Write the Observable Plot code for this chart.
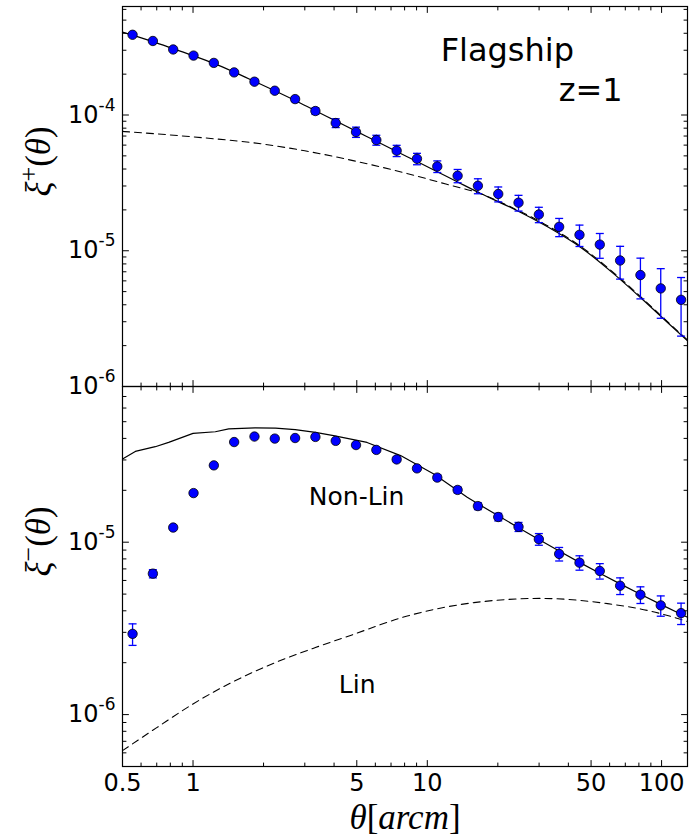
<!DOCTYPE html>
<html><head><meta charset="utf-8">
<script src="https://cdn.jsdelivr.net/npm/d3@7"></script>
<script src="https://cdn.jsdelivr.net/npm/@observablehq/plot@0.6"></script>
<style>
body{margin:0;background:#fff;}
#chart{position:relative;width:691px;height:836px;overflow:hidden;background:#fff;}
#chart svg{position:absolute;left:0;}
</style></head><body><div id="chart"></div>
<script>
// angular bins (arcmin)
const theta = [0.552, 0.674, 0.823, 1.005, 1.227, 1.498, 1.829, 2.233, 2.727, 3.329, 4.065, 4.963, 6.060, 7.399, 9.034, 11.03, 13.47, 16.44, 20.08, 24.51, 29.93, 36.54, 44.62, 54.48, 66.52, 81.22, 99.17, 121.1];
// xi+ measurements
const xiPlus = [3.90e-4, 3.51e-4, 3.04e-4, 2.74e-4, 2.42e-4, 2.06e-4, 1.76e-4, 1.51e-4, 1.31e-4, 1.07e-4, 8.73e-5, 7.49e-5, 6.54e-5, 5.46e-5, 4.76e-5, 4.18e-5, 3.57e-5, 3.01e-5, 2.62e-5, 2.26e-5, 1.85e-5, 1.50e-5, 1.31e-5, 1.11e-5, 8.48e-6, 6.62e-6, 5.28e-6, 4.35e-6];
const xiPlusErr = [4e-6, 4e-6, 4e-6, 4e-6, 4e-6, 4e-6, 5e-6, 5e-6, 5.5e-6, 6e-6, 6.5e-6, 6.5e-6, 5.5e-6, 5.2e-6, 4.6e-6, 4.1e-6, 4.0e-6, 3.8e-6, 3.3e-6, 3.0e-6, 2.4e-6, 2.3e-6, 2.35e-6, 2.3e-6, 2.3e-6, 2.2e-6, 2.1e-6, 2.0e-6];
// xi- measurements
const xiMinus = [2.94e-6, 6.57e-6, 1.216e-5, 1.927e-5, 2.79e-5, 3.81e-5, 4.10e-5, 3.99e-5, 4.02e-5, 4.08e-5, 3.87e-5, 3.66e-5, 3.43e-5, 3.02e-5, 2.68e-5, 2.37e-5, 2.01e-5, 1.62e-5, 1.40e-5, 1.228e-5, 1.041e-5, 8.55e-6, 7.61e-6, 6.81e-6, 5.59e-6, 4.96e-6, 4.30e-6, 3.88e-6];
const xiMinusErr = [4.2e-7, 3.6e-7, 3e-7, 3e-7, 3e-7, 3e-7, 3e-7, 3e-7, 3e-7, 3e-7, 3e-7, 1.0e-6, 1.0e-6, 0.9e-6, 0.8e-6, 0.8e-6, 0.8e-6, 0.75e-6, 0.71e-6, 0.74e-6, 0.81e-6, 0.77e-6, 0.73e-6, 0.70e-6, 0.62e-6, 0.55e-6, 0.58e-6, 0.55e-6];
// model curves: xi+ non-linear (solid) and linear (dashed)
const nlPlusTheta = [0.5, 0.552, 0.674, 0.823, 1.005, 1.227, 1.498, 1.829, 2.233, 2.727, 3.329, 4.065, 4.963, 6.060, 7.399, 9.034, 11.03, 13.47, 16.9, 23.4, 32.6, 45.2, 62.7, 87.1, 106, 129];
const nlPlus = [4.08e-4, 3.88e-4, 3.47e-4, 3.08e-4, 2.73e-4, 2.40e-4, 2.07e-4, 1.77e-4, 1.51e-4, 1.28e-4, 1.075e-4, 9.05e-5, 7.61e-5, 6.41e-5, 5.39e-5, 4.54e-5, 3.82e-5, 3.21e-5, 2.64e-5, 2.03e-5, 1.50e-5, 1.057e-5, 6.73e-6, 4.05e-6, 2.96e-6, 2.17e-6];
const linPlusTheta = [0.5, 1, 2, 3, 5, 8, 12, 17, 23.4, 32.6, 45.2, 62.7, 87.1, 106, 129];
const linPlus = [7.57e-5, 6.9e-5, 6.1e-5, 5.45e-5, 4.55e-5, 3.75e-5, 3.1e-5, 2.62e-5, 2.05e-5, 1.53e-5, 1.075e-5, 6.85e-6, 4.12e-6, 3.0e-6, 2.2e-6];
// model curves: xi- non-linear (solid) and linear (dashed)
const nlMinusTheta = [0.5, 0.567, 0.69, 0.787, 1.0, 1.245, 1.42, 1.84, 2.25, 2.73, 3.33, 3.98, 5.53, 7.69, 10.7, 14.8, 16.44, 20.08, 24.51, 29.93, 36.54, 44.62, 54.48, 66.52, 81.22, 99.17, 121.1, 129];
const nlMinus = [3.04e-5, 3.36e-5, 3.58e-5, 3.79e-5, 4.28e-5, 4.37e-5, 4.54e-5, 4.60e-5, 4.59e-5, 4.50e-5, 4.34e-5, 4.15e-5, 3.79e-5, 3.18e-5, 2.48e-5, 1.82e-5, 1.67e-5, 1.425e-5, 1.213e-5, 1.036e-5, 8.88e-6, 7.64e-6, 6.6e-6, 5.73e-6, 4.99e-6, 4.36e-6, 3.82e-6, 3.67e-6];
const linMinusTheta = [0.5, 0.7, 1, 1.5, 2, 3.33, 4.7, 8.21, 15.8, 30.5, 58.8, 90, 129];
const linMinus = [6.18e-7, 8.4e-7, 1.153e-6, 1.563e-6, 1.875e-6, 2.45e-6, 2.88e-6, 3.73e-6, 4.46e-6, 4.72e-6, 4.40e-6, 3.98e-6, 3.47e-6];
// ticks
const xMajorTicks = [0.5, 1, 5, 10, 50, 100];
const xTickLabels = ["0.5", "1", "5", "10", "50", "100"];
const xMinorTicks = [0.6, 0.7, 0.8, 0.9, 2, 3, 4, 6, 7, 8, 9, 20, 30, 40, 60, 70, 80, 90];
const yPlusMajorTicks = [1e-6, 1e-5, 1e-4];
const yPlusMinorTicks = [2e-6, 3e-6, 4e-6, 5e-6, 6e-6, 7e-6, 8e-6, 9e-6, 2e-5, 3e-5, 4e-5, 5e-5, 6e-5, 7e-5, 8e-5, 9e-5, 2e-4, 3e-4, 4e-4, 5e-4, 6e-4];
const yMinusMajorTicks = [1e-6, 1e-5];
const yMinusMinorTicks = [6e-7, 7e-7, 8e-7, 9e-7, 2e-6, 3e-6, 4e-6, 5e-6, 6e-6, 7e-6, 8e-6, 9e-6, 2e-5, 3e-5, 4e-5, 5e-5, 6e-5, 7e-5];

const STYLE = "font-family: 'DejaVu Sans', sans-serif; font-size: 24px; background: transparent; overflow: visible;";
const X = {type: "log", domain: [0.5, 129]};
const tickShape = {draw(ctx, l) { ctx.moveTo(0, 0); ctx.lineTo(0, -l); }};
const capSymbol = {draw(ctx) { ctx.moveTo(-4, 0); ctx.lineTo(4, 0); }};

function ticks(xs, ys, len) {
  const o = {length: len, anchor: "start", shape: tickShape, stroke: "black", strokeWidth: 1};
  return [
    Plot.vector(xs, {x: d => d, frameAnchor: "bottom", rotate: 0, ...o}),
    Plot.vector(xs, {x: d => d, frameAnchor: "top", rotate: 180, ...o}),
    Plot.vector(ys, {y: d => d, frameAnchor: "left", rotate: 90, ...o}),
    Plot.vector(ys, {y: d => d, frameAnchor: "right", rotate: -90, ...o})
  ];
}
function series(ts, vs) { return ts.map((t, i) => ({t, v: vs[i]})); }
function points(vals, errs) { return theta.map((t, i) => ({t, v: vals[i], e: errs[i]})); }
function dataMarks(pts) {
  return [
    Plot.ruleX(pts, {x: "t", y1: d => d.v - d.e, y2: d => d.v + d.e, stroke: "#0000ff", strokeWidth: 1.3}),
    Plot.dot(pts, {x: "t", y: d => d.v + d.e, symbol: capSymbol, stroke: "#0000ff", fill: "none", strokeWidth: 1.3}),
    Plot.dot(pts, {x: "t", y: d => d.v - d.e, symbol: capSymbol, stroke: "#0000ff", fill: "none", strokeWidth: 1.3}),
    Plot.dot(pts, {x: "t", y: "v", r: 4.7, fill: "#0000ff", stroke: "black", strokeWidth: 0.8})
  ];
}
const powFmt = d => "10^" + Math.round(Math.log10(d));

const ptsPlus = points(xiPlus, xiPlusErr);
const ptsMinus = points(xiMinus, xiMinusErr);

const topPlot = Plot.plot({
  width: 691, height: 400, marginTop: 6, marginBottom: 14, marginLeft: 122, marginRight: 4,
  style: STYLE,
  x: {...X, axis: null},
  y: {type: "log", domain: [1e-6, 6.3e-4]},
  marks: [
    Plot.line(series(linPlusTheta, linPlus), {x: "t", y: "v", stroke: "black", strokeWidth: 1.1, strokeDasharray: "7,5", curve: "monotone-x"}),
    Plot.line(series(nlPlusTheta, nlPlus), {x: "t", y: "v", stroke: "black", strokeWidth: 1.2, curve: "monotone-x"}),
    ...dataMarks(ptsPlus),
    ...ticks(xMajorTicks, yPlusMajorTicks, 6),
    ...ticks(xMinorTicks, yPlusMinorTicks, 3.5),
    Plot.frame({stroke: "black", strokeWidth: 1.2}),
    Plot.axisY({ticks: yPlusMajorTicks, tickSize: 0, tickPadding: 7, tickFormat: powFmt, label: null, fontSize: 24}),
    Plot.text([{s: "Flagship", t: 11.4, v: 2.51e-4}], {x: "t", y: "v", text: "s", textAnchor: "start", lineAnchor: "bottom", fontSize: 32}),
    Plot.text([{s: "z=1", t: 36.4, v: 1.274e-4}], {x: "t", y: "v", text: "s", textAnchor: "start", lineAnchor: "bottom", fontSize: 32}),
    Plot.text(["YLABEL"], {frameAnchor: "left", dx: -84, rotate: -90, fontSize: 35})
  ]
});

const botPlot = Plot.plot({
  width: 691, height: 450, marginTop: 0, marginBottom: 70, marginLeft: 122, marginRight: 4,
  style: STYLE,
  x: {...X, axis: null},
  y: {type: "log", domain: [5e-7, 8e-5]},
  marks: [
    Plot.line(series(linMinusTheta, linMinus), {x: "t", y: "v", stroke: "black", strokeWidth: 1.1, strokeDasharray: "7,5", curve: "monotone-x"}),
    Plot.line(series(nlMinusTheta, nlMinus), {x: "t", y: "v", stroke: "black", strokeWidth: 1.2}),
    ...dataMarks(ptsMinus),
    ...ticks(xMajorTicks, yMinusMajorTicks, 6),
    ...ticks(xMinorTicks, yMinusMinorTicks, 3.5),
    Plot.frame({stroke: "black", strokeWidth: 1.2}),
    Plot.axisY({ticks: yMinusMajorTicks, tickSize: 0, tickPadding: 7, tickFormat: powFmt, label: null, fontSize: 24}),
    Plot.text(xMajorTicks, {x: d => d, text: (d, i) => xTickLabels[i], frameAnchor: "bottom", lineAnchor: "top", dy: 7, fontSize: 24}),
    Plot.text([{s: "Non-Lin", t: 3.12, v: 1.641e-5}], {x: "t", y: "v", text: "s", textAnchor: "start", lineAnchor: "bottom", fontSize: 25}),
    Plot.text([{s: "Lin", t: 4.19, v: 1.335e-6}], {x: "t", y: "v", text: "s", textAnchor: "start", lineAnchor: "bottom", fontSize: 25}),
    Plot.text(["YLABEL"], {frameAnchor: "left", dx: -84, rotate: -90, fontSize: 35}),
    Plot.text(["XLABEL"], {frameAnchor: "bottom", dy: 62, lineAnchor: "bottom", fontSize: 35})
  ]
});

const NS = "http://www.w3.org/2000/svg";
function rich(el, parts, family) {
  el.textContent = "";
  if (family) el.setAttribute("font-family", family);
  for (const p of parts) {
    const ts = document.createElementNS(NS, "tspan");
    ts.textContent = p.t;
    ts.setAttribute("font-style", p.it ? "italic" : "normal");
    if (p.size) ts.setAttribute("font-size", p.size);
    if (p.dy) ts.setAttribute("dy", p.dy);
    el.appendChild(ts);
  }
}
function fixPow(svg) {
  svg.querySelectorAll('g[aria-label="y-axis tick label"] text').forEach(el => {
    const [b, e] = el.textContent.split("^");
    rich(el, [{t: b}, {t: e, size: 17, dy: -12}]);
  });
}
function textsWith(svg, s) { return [...svg.querySelectorAll("text")].filter(el => el.textContent === s); }
fixPow(topPlot); fixPow(botPlot);
const serif = "'Liberation Serif', 'DejaVu Serif', serif";
textsWith(topPlot, "YLABEL").forEach(el =>
  rich(el, [{t: "ξ", it: true}, {t: "+", size: 26, dy: -13}, {t: "(", dy: 13}, {t: "θ", it: true}, {t: ")"}], serif));
textsWith(botPlot, "YLABEL").forEach(el =>
  rich(el, [{t: "ξ", it: true}, {t: "−", size: 26, dy: -13}, {t: "(", dy: 13}, {t: "θ", it: true}, {t: ")"}], serif));
textsWith(botPlot, "XLABEL").forEach(el =>
  rich(el, [{t: "θ", it: true}, {t: "["}, {t: "arcm", it: true}, {t: "]"}], serif));

topPlot.style.top = "0px";
botPlot.style.top = "386px";
const chart = document.getElementById("chart");
chart.appendChild(topPlot);
chart.appendChild(botPlot);
</script></body></html>
